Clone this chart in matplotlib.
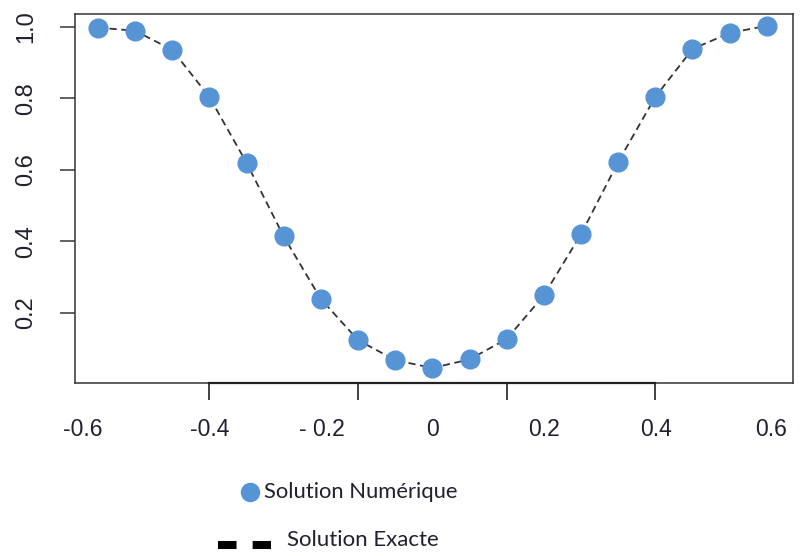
import matplotlib
matplotlib.use("Agg")
import matplotlib.pyplot as plt
from matplotlib.lines import Line2D

# donnees
x = [-0.6, -0.5333, -0.4667, -0.4, -0.3333, -0.2667, -0.2, -0.1333, -0.0667, 0.0,
     0.0667, 0.1333, 0.2, 0.2667, 0.3333, 0.4, 0.4667, 0.5333, 0.6]
u_num = [0.998, 0.989, 0.936, 0.804, 0.620, 0.414, 0.239, 0.124, 0.068, 0.046,
         0.070, 0.127, 0.249, 0.420, 0.622, 0.804, 0.938, 0.983, 1.003]
u_exact = u_num

xtick_labels = ["-0.6", "-0.4", "- 0.2", "0", "0.2", "0.4", "0.6"]
xtick_label_pos = [-0.627, -0.399, -0.198, 0.001, 0.200, 0.402, 0.608]
xtick_marks = [x[3], x[7], x[11], x[15]]
yticks = [0.2, 0.4, 0.6, 0.8, 1.0]
ytick_labels = ["0.2", "0.4", "0.6", "0.8", "1.0"]

blue = "#5694d6"
txt = "#202030"
W, H = 803, 556

fig = plt.figure(figsize=(W / 100, H / 100), dpi=100)
ax = fig.add_axes([75 / W, 1 - 383 / H, (793 - 75) / W, (383 - 14) / H])

ax.plot(x, u_exact, color="#333333", lw=1.3, ls=(0, (4, 2.5)), zorder=2)
ax.plot(x, u_num, ls="none", marker="o", ms=13.5, color=blue, mec=blue, zorder=3)

ax.set_xlim(-0.641, 0.647)
ax.set_ylim(0.004, 1.036)

for s in ax.spines.values():
    s.set_color("#333333")
    s.set_linewidth(1.1)

# axe des x : etiquettes sans trait, traits aux positions R
ax.set_xticks(xtick_label_pos)
ax.set_xticklabels(xtick_labels, fontsize=16.5, color=txt, family="Liberation Sans")
ax.tick_params(axis="x", which="major", length=0, pad=25)
ax.set_xticks(xtick_marks, minor=True)
ax.tick_params(axis="x", which="minor", length=12, width=1.3, color="#333333")
ax.plot([xtick_marks[0], xtick_marks[-1]], [0.004, 0.004], color="#222222",
        lw=1.6, clip_on=False, zorder=4)

ax.set_yticks(yticks)
ax.set_yticklabels(ytick_labels, fontsize=17, color=txt, family="Liberation Sans",
                   rotation=90, va="center")
ax.tick_params(axis="y", length=11, width=1.3, color="#555555", pad=16)

# legende
fig.add_artist(Line2D([250 / W], [1 - 492 / H], marker="o", ms=13, color=blue,
                      ls="none", transform=fig.transFigure))
fig.text(264 / W, 1 - 492 / H, "Solution Numérique", fontsize=15.8, family="Lato",
         color=txt, va="center", ha="left")
fig.add_artist(Line2D([218 / W, 271 / W], [1 - 545 / H, 1 - 545 / H], color="black",
                      lw=5.8, ls=(0, (2.3, 2.0)), solid_capstyle="butt",
                      dash_capstyle="butt", transform=fig.transFigure))
fig.text(287 / W, 1 - 540 / H, "Solution Exacte", fontsize=16, family="Lato",
         color=txt, va="center", ha="left")

fig.savefig("out.png", dpi=100)
